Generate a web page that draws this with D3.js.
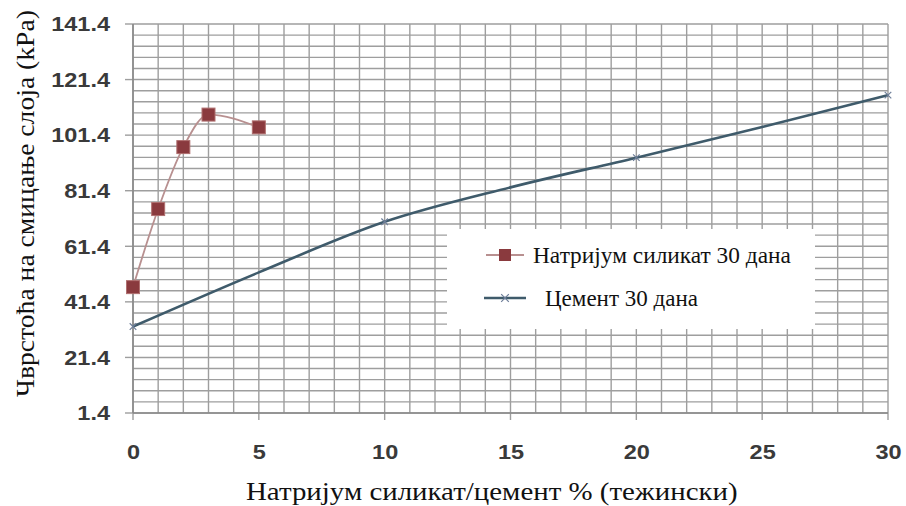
<!DOCTYPE html>
<html><head><meta charset="utf-8">
<script src="https://cdn.jsdelivr.net/npm/d3@7"></script>
<style>body{margin:0;background:#fff}</style>
</head><body>
<svg id="c" width="906" height="506"></svg>
<script>
const silicateX = [0, 1, 2, 3, 5];
const silicateY = [46.7, 74.8, 97.1, 108.8, 104.2];
const cementX = [0, 5, 10, 15, 20, 25, 30];
const cementY = [32.5, 52.0, 70.2, 82.6, 93.3, 104.3, 115.8];
const xTicks = [0, 5, 10, 15, 20, 25, 30];
const yTicks = [1.4, 21.4, 41.4, 61.4, 81.4, 101.4, 121.4, 141.4];
const seriesNames = ["Натријум силикат 30 дана", "Цемент 30 дана"];
const xTitle = "Натријум силикат/цемент % (тежински)";
const yTitle = "Чврстоћа на смицање слоја (kPa)";

const svg = d3.select("#c");
const L = 133, R = 888, T = 24, B = 413;
const x = d3.scaleLinear().domain([0, 30]).range([L, R]);
const y = d3.scaleLinear().domain([1.4, 141.4]).range([B, T]);
const serif = "'Liberation Serif'";
const sans = "'Liberation Sans'";

const grid = svg.append("g").attr("stroke", "#9e9e9e").attr("stroke-width", 1.4);
d3.range(0, 31, 1).forEach(v => grid.append("line").attr("x1", x(v)).attr("x2", x(v)).attr("y1", T).attr("y2", B + (v % 5 === 0 ? 7 : 0)));
d3.range(1.4, 141.5, 4).forEach(v => grid.append("line").attr("x1", L).attr("x2", R).attr("y1", y(v)).attr("y2", y(v)));
yTicks.forEach(v => grid.append("line").attr("x1", L - 8).attr("x2", L).attr("y1", y(v)).attr("y2", y(v)));

svg.append("line").attr("x1", L).attr("x2", R).attr("y1", B).attr("y2", B).attr("stroke", "#8a8a8a").attr("stroke-width", 1.6);
svg.append("line").attr("x1", L).attr("x2", L).attr("y1", T).attr("y2", B).attr("stroke", "#8a8a8a").attr("stroke-width", 1.6);

const xa = svg.append("g").attr("transform", `translate(0,${B})`)
  .call(d3.axisBottom(x).tickValues(xTicks).tickSize(0).tickPadding(31).tickFormat(d3.format("d")));
xa.select(".domain").remove();
const ya = svg.append("g").attr("transform", `translate(${L},0)`)
  .call(d3.axisLeft(y).tickValues(yTicks).tickSize(0).tickPadding(23).tickFormat(d3.format(".1f")));
ya.select(".domain").remove();
svg.selectAll(".tick text").style("font-family", sans).style("font-size", "21px").style("font-weight", "bold").attr("fill", "#3a3a3a")
  .each(function(){ const w = this.getComputedTextLength(); d3.select(this).attr("textLength", w * 1.12).attr("lengthAdjust", "spacingAndGlyphs"); });

const cem = cementX.map((v, i) => [v, cementY[i]]);
const sil = silicateX.map((v, i) => [v, silicateY[i]]);
const line = d3.line().x(d => x(d[0])).y(d => y(d[1])).curve(d3.curveMonotoneX);

svg.append("path").datum(cem).attr("d", line).attr("fill", "none").attr("stroke", "#3f5b6b").attr("stroke-width", 2.6);
svg.selectAll(".cx").data(cem.filter(d => d[0] % 10 === 0)).enter().append("path")
  .attr("d", d3.symbol(d3.symbolX, 30)).attr("transform", d => `translate(${x(d[0])},${y(d[1])})`)
  .attr("stroke", "#6f7f9a").attr("stroke-width", 1.2).attr("fill", "none");

svg.append("path").datum(sil).attr("d", line).attr("fill", "none").attr("stroke", "#b89090").attr("stroke-width", 1.8);
svg.selectAll(".sq").data(sil).enter().append("rect")
  .attr("x", d => x(d[0]) - 6.5).attr("y", d => y(d[1]) - 6.5).attr("width", 13).attr("height", 13)
  .attr("fill", "#8a3a3e").attr("stroke", "#b07070").attr("stroke-width", 1);

// serif text, stretched horizontally with a transform to a target width
function serifText(str, size, tx, ty, rot, target) {
  const t = svg.append("text").style("font-family", serif).style("font-size", size + "px")
    .attr("fill", "#111").text(str);
  const w = t.node().getComputedTextLength();
  const s = w > 0 ? target / w : 1;
  t.attr("transform", `translate(${tx},${ty}) rotate(${rot}) scale(${s},1)`);
  return t;
}

// legend
svg.append("rect").attr("x", 447).attr("y", 229).attr("width", 368).attr("height", 100).attr("fill", "#fff");
svg.append("line").attr("x1", 486).attr("x2", 524).attr("y1", 255).attr("y2", 255).attr("stroke", "#b89090").attr("stroke-width", 2);
svg.append("rect").attr("x", 499).attr("y", 249).attr("width", 12).attr("height", 12).attr("fill", "#8a3a3e");
svg.append("line").attr("x1", 484).attr("x2", 526).attr("y1", 298).attr("y2", 298).attr("stroke", "#3f5b6b").attr("stroke-width", 2.6);
svg.append("path").attr("d", d3.symbol(d3.symbolX, 40)).attr("transform", "translate(505,298)").attr("stroke", "#6f7f9a").attr("stroke-width", 1.2);
serifText(seriesNames[0], 23, 533, 263, 0, 258);
serifText(seriesNames[1], 23, 545, 306, 0, 153);

serifText(xTitle, 26, 246, 500, 0, 492);
serifText(yTitle, 26, 34, 397, -90, 387);
</script>
</body></html>
